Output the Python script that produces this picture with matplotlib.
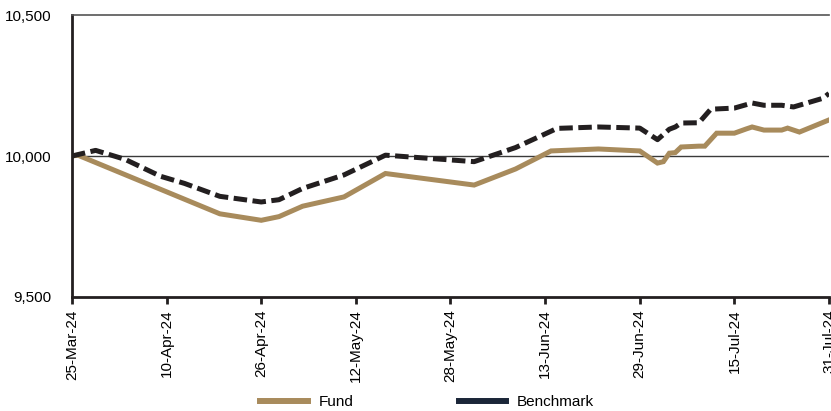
import matplotlib.pyplot as plt
import matplotlib.dates as mdates
from matplotlib.lines import Line2D
from matplotlib.ticker import FuncFormatter
import numpy as np
import pandas as pd

plt.rcParams['font.family'] = ['Liberation Sans', 'DejaVu Sans']

start = pd.Timestamp('2024-03-25')

# growth of 10,000 - day offsets from start and values
fund_days = [0, 1, 25, 32, 35, 39, 46, 53, 68, 75, 81, 89, 96, 99, 100, 101,
             102, 103, 106, 107, 109, 112, 114, 115, 117, 120, 121, 123, 128]
fund_vals = [10000, 10003, 9795, 9772, 9785, 9822, 9855, 9938, 9897, 9954,
             10018, 10025, 10018, 9975, 9980, 10010, 10012, 10032, 10035,
             10035, 10081, 10081, 10096, 10103, 10092, 10092, 10099, 10085,
             10128]

bench_days = [0, 4, 9, 15, 19, 25, 32, 35, 39, 46, 53, 68, 75, 81, 82, 89, 96,
              99, 101, 102, 103, 106, 108, 112, 115, 117, 120, 122, 127, 128]
bench_vals = [10000, 10020, 9988, 9928, 9903, 9857, 9837, 9845, 9885, 9933,
              10003, 9980, 10030, 10088, 10098, 10103, 10099, 10058, 10095,
              10103, 10117, 10118, 10166, 10170, 10188, 10180, 10180, 10174,
              10205, 10222]

fund_dates = start + pd.to_timedelta(fund_days, unit='D')
bench_dates = start + pd.to_timedelta(bench_days, unit='D')
tick_dates = pd.date_range(start, periods=9, freq='16D')

gold = '#A88B5C'
dark = '#231F20'
navy = '#1B2638'

fig = plt.figure(figsize=(8.31, 4.11), dpi=100)
ax = fig.add_axes([0.0866, 0.2774, 0.911, 0.686])

ax.axhline(10000, color='#3a3a3a', lw=1.0, zorder=1)
ax.plot(fund_dates, fund_vals, color=gold, lw=3.6, solid_joinstyle='miter', zorder=2)
ax.plot(bench_dates, bench_vals, color=dark, lw=3.6, dashes=(2.7, 1.1),
        dash_capstyle='butt', zorder=3)

ax.set_ylim(9500, 10500)
ax.set_yticks([9500, 10000, 10500])
ax.yaxis.set_major_formatter(FuncFormatter(lambda v, p: f'{int(v):,}'))
ax.set_xlim(tick_dates[0], tick_dates[-1])
ax.set_xticks(tick_dates)
ax.xaxis.set_major_formatter(mdates.DateFormatter('%d-%b-%y'))

for lab in ax.get_xticklabels():
    lab.set_rotation(90)
ax.tick_params(axis='x', labelsize=11, length=5, width=2, color=dark, pad=4)
ax.tick_params(axis='y', labelsize=11, length=0, pad=15)

ax.spines['right'].set_visible(False)
ax.spines['top'].set_color('#555555')
ax.spines['top'].set_linewidth(1.2)
ax.spines['left'].set_color(dark)
ax.spines['left'].set_linewidth(2)
ax.spines['bottom'].set_color(dark)
ax.spines['bottom'].set_linewidth(2)

handles = [Line2D([], [], color=gold, lw=4.3),
           Line2D([], [], color=navy, lw=4.3)]
fig.legend(handles, ['Fund', 'Benchmark'], loc='center', ncol=2,
           bbox_to_anchor=(0.514, 0.022), frameon=False, fontsize=11,
           handlelength=3.1, handletextpad=0.7, columnspacing=6.9)

fig.savefig('out.png', dpi=100)
